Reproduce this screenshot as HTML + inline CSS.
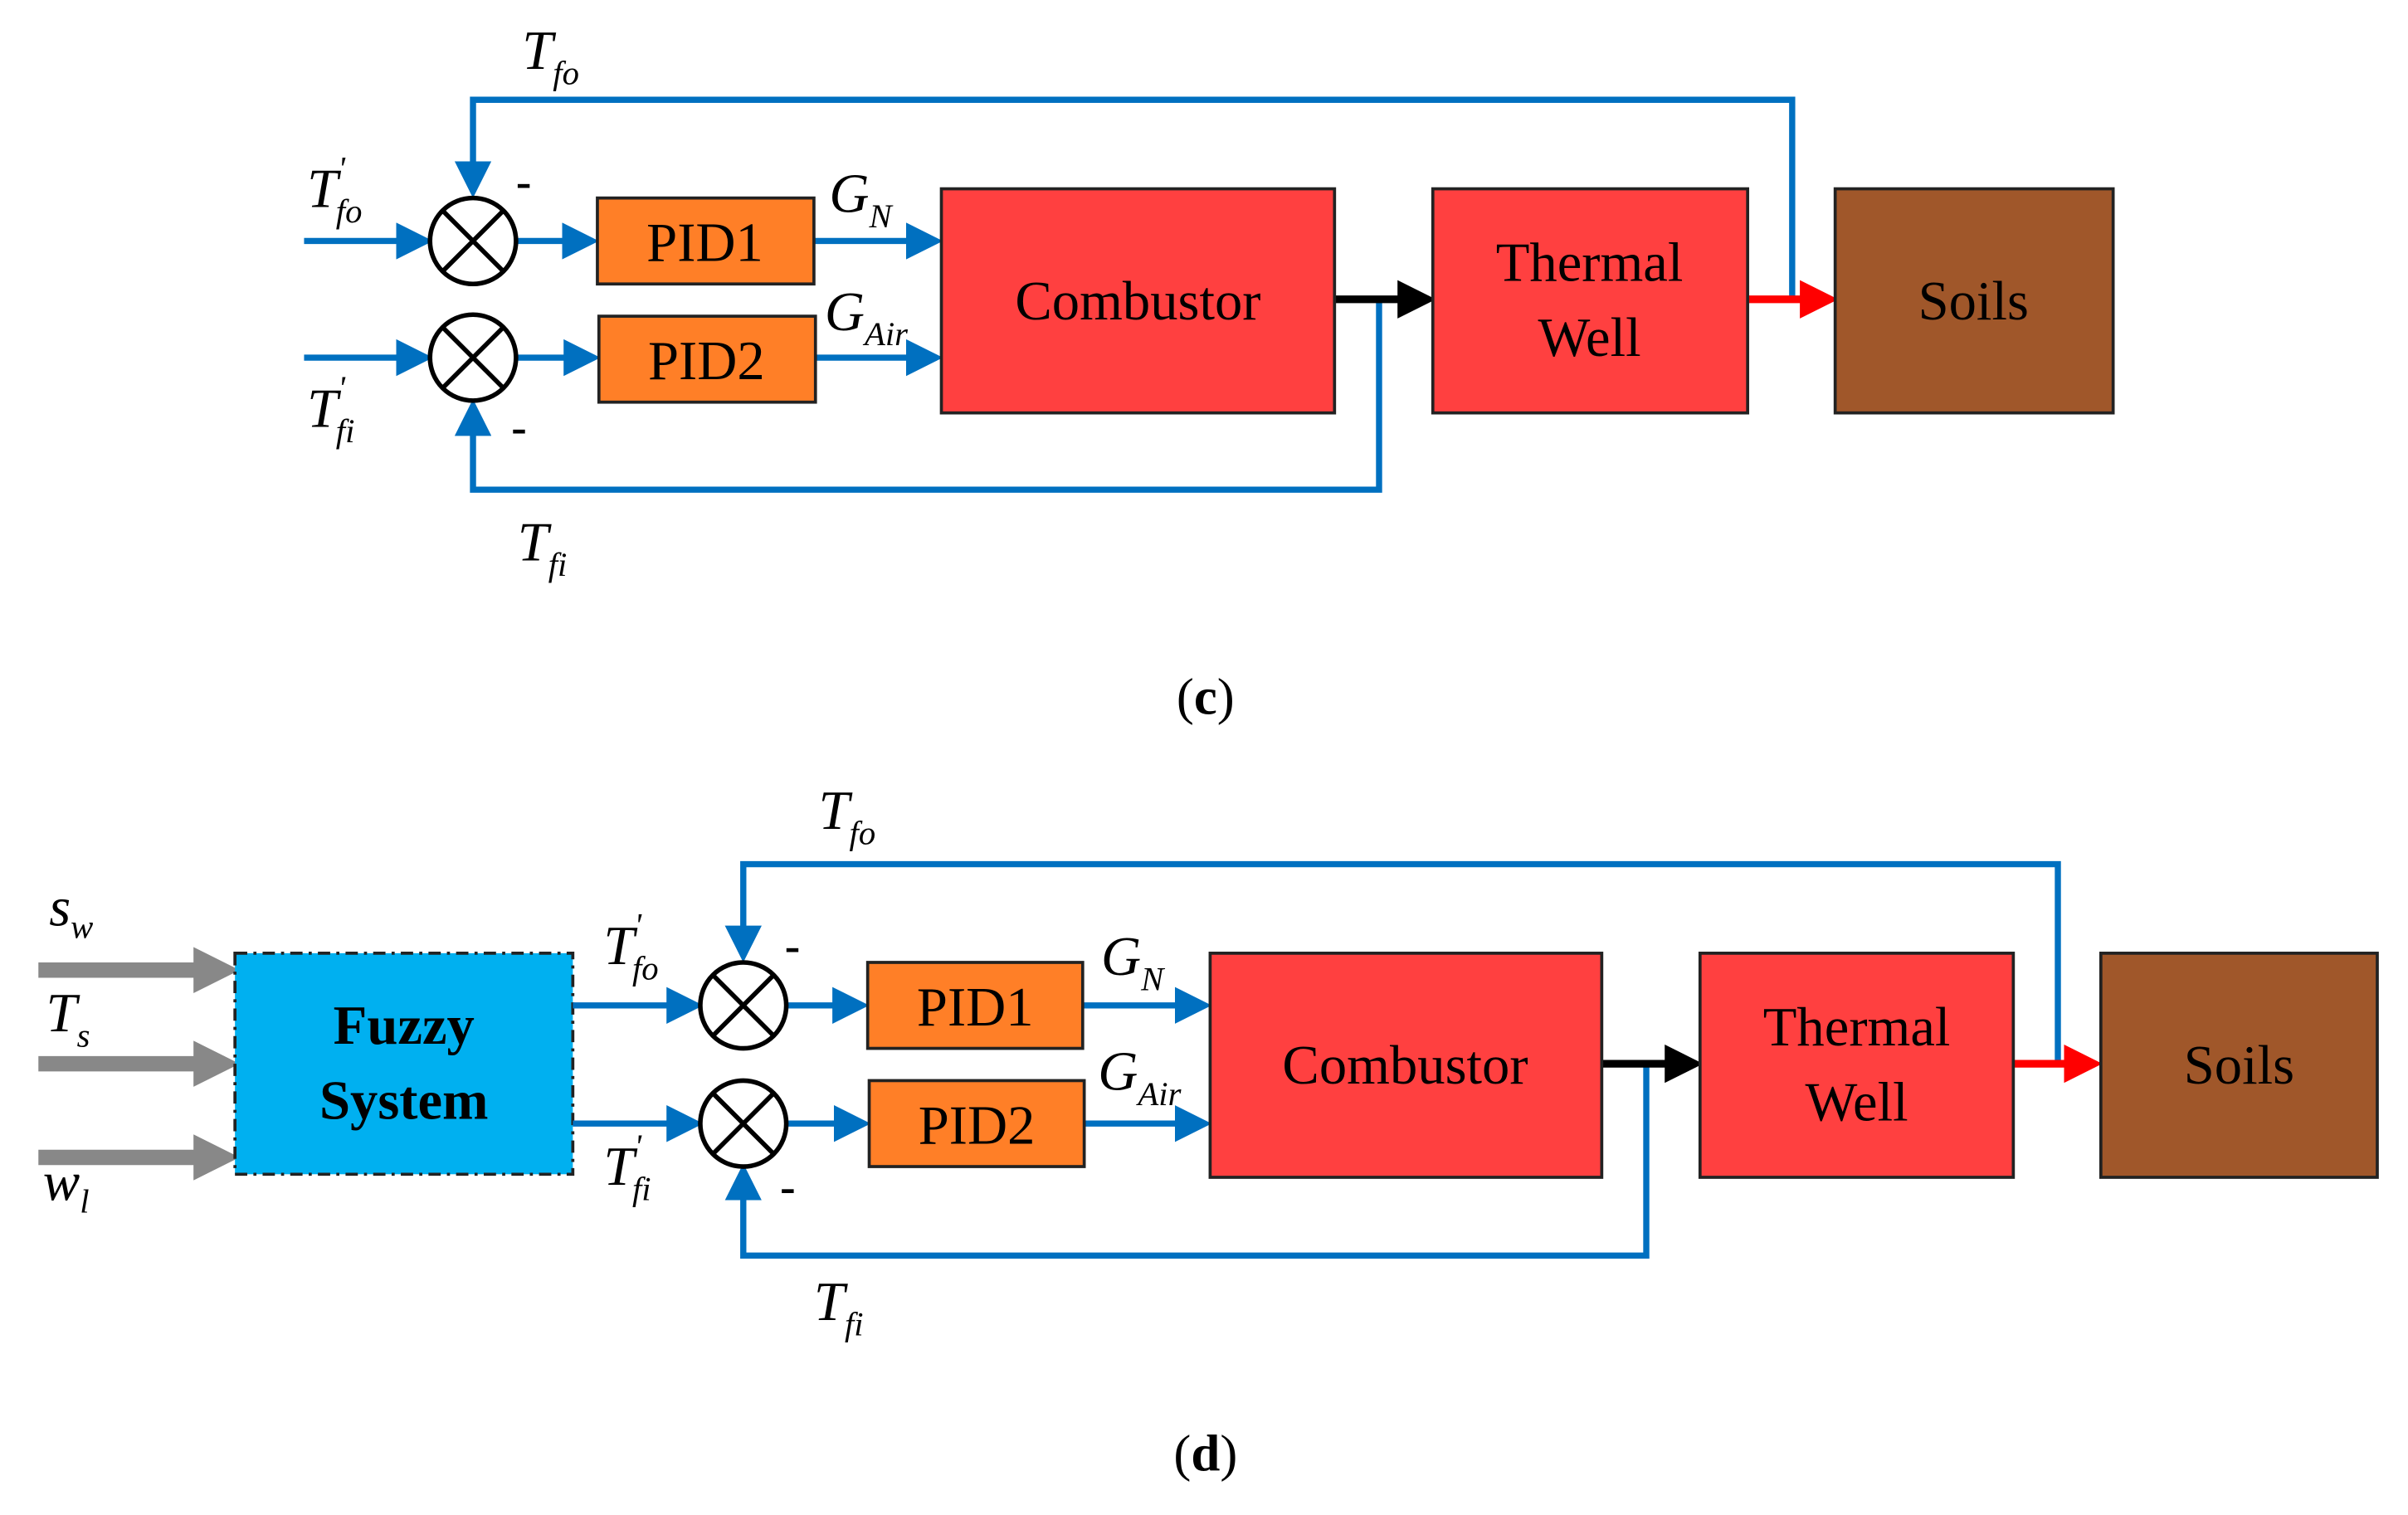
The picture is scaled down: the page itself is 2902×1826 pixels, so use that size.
<!DOCTYPE html>
<html><head><meta charset="utf-8"><style>
html,body{margin:0;padding:0;background:#fff}
svg{display:block}
svg text{font-family:"Liberation Serif","Times New Roman",serif}
.it{font-style:italic}
</style></head><body>
<svg width="2902" height="1826" viewBox="0 0 1568 987" preserveAspectRatio="none" xmlns="http://www.w3.org/2000/svg" font-family="Liberation Serif, serif">
<defs>
<marker id="ab" markerWidth="6" markerHeight="6" refX="5" refY="3" orient="auto" markerUnits="strokeWidth"><path d="M0,0 L6,3 L0,6 z" fill="#0070C0"/></marker>
<marker id="ak" markerWidth="5" markerHeight="5" refX="4" refY="2.5" orient="auto" markerUnits="strokeWidth"><path d="M0,0 L5,2.5 L0,5 z" fill="#000"/></marker>
<marker id="ar" markerWidth="5" markerHeight="5" refX="4" refY="2.5" orient="auto" markerUnits="strokeWidth"><path d="M0,0 L5,2.5 L0,5 z" fill="#f00"/></marker>
<marker id="ag" markerWidth="3" markerHeight="3" refX="2" refY="1.5" orient="auto" markerUnits="strokeWidth"><path d="M0,0 L3,1.5 L0,3 z" fill="#888"/></marker>
</defs>

<!-- ===== (c) ===== -->
<g stroke="#0070C0" stroke-width="4" fill="none">
<polyline points="1167,195 1167,65 308,65 308,125" marker-end="url(#ab)"/>
<polyline points="898,195 898,319 308,319 308,264" marker-end="url(#ab)"/>
<line x1="198" y1="157" x2="278" y2="157" marker-end="url(#ab)"/>
<line x1="198" y1="233" x2="278" y2="233" marker-end="url(#ab)"/>
<line x1="336" y1="157" x2="386" y2="157" marker-end="url(#ab)"/>
<line x1="336" y1="233" x2="387" y2="233" marker-end="url(#ab)"/>
<line x1="530" y1="157" x2="610" y2="157" marker-end="url(#ab)"/>
<line x1="531" y1="233" x2="610" y2="233" marker-end="url(#ab)"/>
</g>
<line x1="869" y1="195" x2="930" y2="195" stroke="#000" stroke-width="5" marker-end="url(#ak)"/>
<line x1="1138" y1="195" x2="1192" y2="195" stroke="#f00" stroke-width="5" marker-end="url(#ar)"/>
<g stroke="#000" stroke-width="3" fill="#fff">
<circle cx="308" cy="157" r="28"/><circle cx="308" cy="233" r="28"/>
</g>
<g stroke="#000" stroke-width="3">
<line x1="288" y1="137" x2="328" y2="177"/><line x1="328" y1="137" x2="288" y2="177"/>
<line x1="288" y1="213" x2="328" y2="253"/><line x1="328" y1="213" x2="288" y2="253"/>
</g>
<g stroke="#222" stroke-width="2">
<rect x="389" y="129" width="141" height="56" fill="#FF7F27"/>
<rect x="390" y="206" width="141" height="56" fill="#FF7F27"/>
<rect x="613" y="123" width="256" height="146" fill="#FF4040"/>
<rect x="933" y="123" width="205" height="146" fill="#FF4040"/>
<rect x="1195" y="123" width="181" height="146" fill="#A0572A"/>
</g>
<g font-size="36" text-anchor="middle" fill="#000">
<text x="459" y="170">PID1</text>
<text x="460" y="247">PID2</text>
<text x="741" y="208">Combustor</text>
<text x="1035" y="183">Thermal</text>
<text x="1035" y="232">Well</text>
<text x="1285" y="208">Soils</text>
</g>
<g font-size="36" class="it" fill="#000">
<text x="340" y="45">T<tspan font-size="22" dy="10">fo</tspan></text>
<text x="200" y="135">T<tspan font-size="22" dy="-18">'</tspan><tspan font-size="22" dy="28" dx="-6">fo</tspan></text>
<text x="540" y="138">G<tspan font-size="22" dy="10">N</tspan></text>
<text x="537" y="215">G<tspan font-size="22" dy="10">Air</tspan></text>
<text x="200" y="278">T<tspan font-size="22" dy="-18">'</tspan><tspan font-size="22" dy="28" dx="-6">fi</tspan></text>
<text x="337" y="365">T<tspan font-size="22" dy="10">fi</tspan></text>
</g>
<text x="336" y="128" font-size="30" font-weight="bold">-</text>
<text x="333" y="288" font-size="30" font-weight="bold">-</text>
<text x="785" y="465" font-size="34" text-anchor="middle">(<tspan font-weight="bold">c</tspan>)</text>

<!-- ===== (d) ===== -->
<g stroke="#888" stroke-width="10">
<line x1="25" y1="632" x2="146" y2="632" marker-end="url(#ag)"/>
<line x1="25" y1="693" x2="146" y2="693" marker-end="url(#ag)"/>
<line x1="25" y1="754" x2="146" y2="754" marker-end="url(#ag)"/>
</g>
<rect x="153" y="621" width="220" height="144" fill="#00B0F0" stroke="#222" stroke-width="2" stroke-dasharray="8,4,2,4"/>
<g font-size="36" font-weight="bold" text-anchor="middle">
<text x="263" y="680">Fuzzy</text><text x="263" y="729">System</text>
</g>
<g stroke="#0070C0" stroke-width="4" fill="none">
<polyline points="1340,693 1340,563 484,563 484,623" marker-end="url(#ab)"/>
<polyline points="1072,693 1072,818 484,818 484,762" marker-end="url(#ab)"/>
<line x1="373" y1="655" x2="454" y2="655" marker-end="url(#ab)"/>
<line x1="373" y1="732" x2="454" y2="732" marker-end="url(#ab)"/>
<line x1="512" y1="655" x2="562" y2="655" marker-end="url(#ab)"/>
<line x1="512" y1="732" x2="563" y2="732" marker-end="url(#ab)"/>
<line x1="705" y1="655" x2="785" y2="655" marker-end="url(#ab)"/>
<line x1="706" y1="732" x2="785" y2="732" marker-end="url(#ab)"/>
</g>
<line x1="1043" y1="693" x2="1104" y2="693" stroke="#000" stroke-width="5" marker-end="url(#ak)"/>
<line x1="1311" y1="693" x2="1364" y2="693" stroke="#f00" stroke-width="5" marker-end="url(#ar)"/>
<g stroke="#000" stroke-width="3" fill="#fff">
<circle cx="484" cy="655" r="28"/><circle cx="484" cy="732" r="28"/>
</g>
<g stroke="#000" stroke-width="3">
<line x1="464" y1="635" x2="504" y2="675"/><line x1="504" y1="635" x2="464" y2="675"/>
<line x1="464" y1="712" x2="504" y2="752"/><line x1="504" y1="712" x2="464" y2="752"/>
</g>
<g stroke="#222" stroke-width="2">
<rect x="565" y="627" width="140" height="56" fill="#FF7F27"/>
<rect x="566" y="704" width="140" height="56" fill="#FF7F27"/>
<rect x="788" y="621" width="255" height="146" fill="#FF4040"/>
<rect x="1107" y="621" width="204" height="146" fill="#FF4040"/>
<rect x="1368" y="621" width="180" height="146" fill="#A0572A"/>
</g>
<g font-size="36" text-anchor="middle" fill="#000">
<text x="635" y="668">PID1</text>
<text x="636" y="745">PID2</text>
<text x="915" y="706">Combustor</text>
<text x="1209" y="681">Thermal</text>
<text x="1209" y="730">Well</text>
<text x="1458" y="706">Soils</text>
</g>
<g font-size="36" class="it" fill="#000">
<text x="32" y="603">s<tspan font-size="22" dy="8">w</tspan></text>
<text x="30" y="672">T<tspan font-size="22" dy="10">s</tspan></text>
<text x="28" y="782">w<tspan font-size="22" dy="8">l</tspan></text>
<text x="533" y="540">T<tspan font-size="22" dy="10">fo</tspan></text>
<text x="393" y="628">T<tspan font-size="22" dy="-18">'</tspan><tspan font-size="22" dy="28" dx="-6">fo</tspan></text>
<text x="717" y="635">G<tspan font-size="22" dy="10">N</tspan></text>
<text x="715" y="710">G<tspan font-size="22" dy="10">Air</tspan></text>
<text x="393" y="772">T<tspan font-size="22" dy="-18">'</tspan><tspan font-size="22" dy="28" dx="-6">fi</tspan></text>
<text x="530" y="860">T<tspan font-size="22" dy="10">fi</tspan></text>
</g>
<text x="511" y="626" font-size="30" font-weight="bold">-</text>
<text x="508" y="783" font-size="30" font-weight="bold">-</text>
<text x="785" y="958" font-size="34" text-anchor="middle">(<tspan font-weight="bold">d</tspan>)</text>
</svg>
</body></html>
